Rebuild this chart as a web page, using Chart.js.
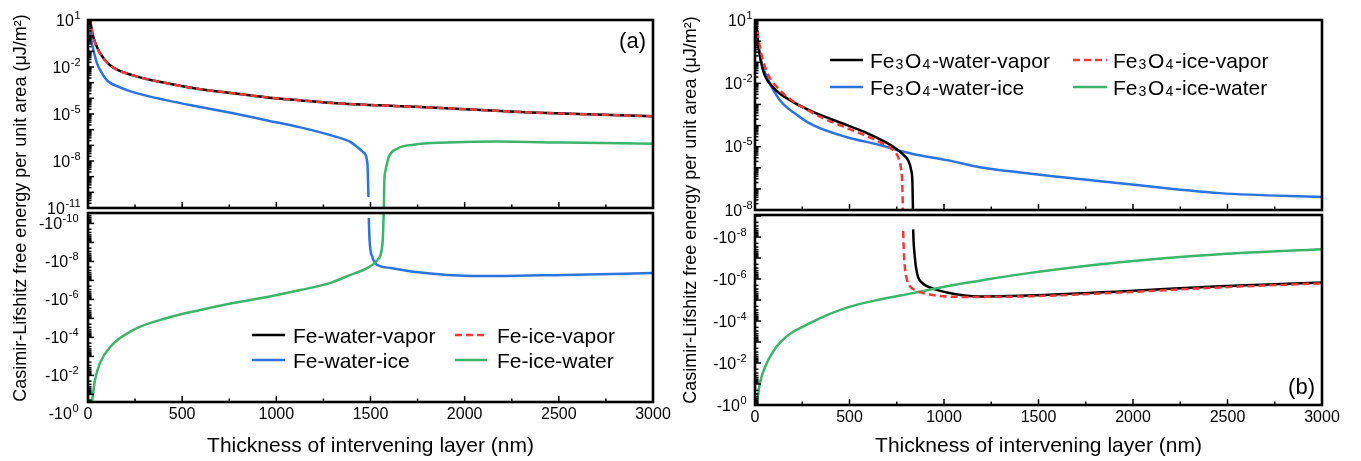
<!DOCTYPE html>
<html><head><meta charset="utf-8">
<script src="https://cdn.jsdelivr.net/npm/chart.js@4.4.1/dist/chart.umd.min.js"></script>
<style>
html,body{margin:0;padding:0;background:#fff;}
#wrap{position:relative;width:1361px;height:461px;overflow:hidden;background:#fff;}
canvas{position:absolute;left:0;top:0;}
</style></head><body>
<div id="wrap">
<canvas id="aTop" width="1361" height="461"></canvas>
<canvas id="aBot" width="1361" height="461"></canvas>
<canvas id="bTop" width="1361" height="461"></canvas>
<canvas id="bBot" width="1361" height="461"></canvas>
</div>
<script>
// ---------- tick labels / axis texts ----------
const xTickValues = [0, 500, 1000, 1500, 2000, 2500, 3000];
const aTopTicks = [1e1, 1e-2, 1e-5, 1e-8, 1e-11];
const aBotTicks = [1e-10, 1e-8, 1e-6, 1e-4, 1e-2, 1e0];
const bTopTicks = [1e1, 1e-2, 1e-5, 1e-8];
const bBotTicks = [1e-8, 1e-6, 1e-4, 1e-2, 1e0];
const xTitle = 'Thickness of intervening layer (nm)';
const yTitle = 'Casimir-Lifshitz free energy per unit area (\u03bcJ/m\u00b2)';
const aNames = ['Fe-water-vapor', 'Fe-ice-vapor', 'Fe-water-ice', 'Fe-ice-water'];
const bNames = ['Fe\u2083O\u2084-water-vapor', 'Fe\u2083O\u2084-ice-vapor', 'Fe\u2083O\u2084-water-ice', 'Fe\u2083O\u2084-ice-water'];
const seriesColors = ['#000000', '#f03a3a', '#2b74de', '#3db36c'];

// ---------- panel (a): Fe  (x in nm, energy in uJ/m^2, signed) ----------
const aWaterVaporX = [8, 11, 28, 64, 117, 239, 420, 596, 771, 952, 1128, 1320, 1819, 2351, 3000];
const aWaterVaporE = [15, 10, 0.83, 0.076, 0.013, 2.9e-3, 9.1e-4, 3.8e-4, 2.1e-4, 1.15e-4, 7.4e-5, 4.8e-5, 2.6e-5, 1.26e-5, 7.1e-6];
const aIceVaporX = [8, 11, 28, 64, 117, 239, 420, 596, 771, 952, 1128, 1320, 1819, 2351, 3000];
const aIceVaporE = [15, 10, 0.83, 0.076, 0.013, 2.9e-3, 9.1e-4, 3.8e-4, 2.1e-4, 1.15e-4, 7.4e-5, 4.8e-5, 2.6e-5, 1.26e-5, 7.1e-6];
const aWaterIceX = [7, 21, 48, 64, 101, 170, 239, 420, 596, 771, 952, 1128, 1300, 1394, 1463, 1484, 1489,
                    1491, 1495, 1510, 1537, 1606, 1729, 1910, 2176, 2527, 3000];
const aWaterIceE = [3.0, 0.32, 0.017, 6.5e-3, 1.4e-3, 5.0e-4, 2.5e-4, 7.4e-5, 2.8e-5, 1.1e-5, 3.9e-6, 1.4e-6, 4.0e-7, 1.6e-7, 3.5e-8, 6.3e-9, 5.0e-11,
                    -5.1e-11, -7.4e-10, -5.9e-9, -1.55e-8, -2.2e-8, -3.5e-8, -5.1e-8, -5.9e-8, -5.1e-8, -4.1e-8];
const aIceWaterX = [15, 21, 37, 64, 117, 239, 420, 596, 771, 952, 1128, 1287, 1394, 1484, 1537, 1564, 1569, 1570,
                    1571, 1573, 1580, 1596, 1644, 1729, 1910, 2176, 2527, 3000];
const aIceWaterE = [-0.5, -0.25, -0.0174, -2.2e-3, -3.2e-4, -4.1e-5, -9.5e-6, -3.6e-6, -1.55e-6, -7.4e-7, -3.2e-7, -1.35e-7, -5.1e-8, -2.2e-8, -8.3e-9, -1.07e-9, -6.6e-11, -2.5e-11,
                    1e-11, 4e-10, 2.5e-9, 1.66e-8, 6.3e-8, 1.1e-7, 1.5e-7, 1.74e-7, 1.5e-7, 1.26e-7];

// ---------- panel (b): Fe3O4 ----------
const bWaterVaporX = [5, 17, 42, 95, 185, 307, 487, 593, 698, 750, 790, 810, 826, 833, 836,
                      837, 839, 844, 851, 862, 880, 910, 1016, 1190, 1402, 1931, 2460, 3000];
const bWaterVaporE = [10, 0.8, 0.043, 6.6e-3, 1.6e-3, 4.4e-4, 1.05e-4, 4.4e-5, 1.5e-5, 7.6e-6, 3.8e-6, 2.3e-6, 7.9e-7, 2.0e-7, 7.9e-9,
                      -4.3e-9, -1.6e-8, -6.3e-8, -2.5e-7, -7.6e-7, -1.4e-6, -2.2e-6, -4.4e-6, -6.8e-6, -6.3e-6, -3.9e-6, -2.2e-6, -1.45e-6];
const bIceVaporX = [5, 26, 63, 132, 307, 487, 661, 730, 760, 772, 779, 783,
                    784, 786, 789, 795, 804, 820, 850, 926, 1100, 1402, 1931, 2460, 3000];
const bIceVaporE = [10, 0.54, 0.035, 4.8e-3, 3.9e-4, 7.6e-5, 1.66e-5, 6.9e-6, 2.8e-6, 1.0e-6, 2.0e-7, 7.9e-9,
                    -5.2e-9, -2.0e-8, -1.0e-7, -4.0e-7, -1.05e-6, -2.2e-6, -3.5e-6, -5.5e-6, -7.1e-6, -6.8e-6, -4.4e-6, -2.5e-6, -1.6e-6];
const bWaterIceX = [5, 26, 63, 132, 222, 307, 487, 661, 751, 836, 1016, 1190, 1402, 1931, 2460, 3000];
const bWaterIceE = [3.4, 0.18, 0.02, 1.6e-3, 3.2e-4, 1.05e-4, 2.8e-5, 1.2e-5, 6.9e-6, 4.5e-6, 2.3e-6, 1.07e-6, 6.0e-7, 1.86e-7, 6.3e-8, 4.1e-8];
const bIceWaterX = [9, 26, 63, 132, 307, 487, 661, 836, 1016, 1190, 1402, 1931, 2460, 3000];
const bIceWaterE = [-1.0, -0.089, -0.01, -1.07e-3, -1.07e-4, -2.3e-5, -9.5e-6, -4.7e-6, -2.2e-6, -1.2e-6, -6.0e-7, -1.6e-7, -6.6e-8, -3.8e-8];

// ---------- helpers ----------
const FONT = "'Liberation Sans', Arial, 'DejaVu Sans', sans-serif";
const SUBS = '\u2080\u2081\u2082\u2083\u2084\u2085\u2086\u2087\u2088\u2089';
const posPts = (xs, es) => xs.map((x, i) => ({x: x, y: es[i]})).filter(p => p.y > 0);
const negPts = (xs, es) => xs.map((x, i) => ({x: x, y: -es[i]})).filter(p => p.y > 0);
const dashes = [null, [7, 4], null, null];
const orders = [2, 0, 3, 1];

function makeDatasets(seriesX, seriesE, names, sign) {
  const out = [];
  for (let i = 0; i < 4; i++) {
    const data = sign > 0 ? posPts(seriesX[i], seriesE[i]) : negPts(seriesX[i], seriesE[i]);
    if (!data.length) continue;
    out.push({
      label: names[i], data: data, borderColor: seriesColors[i], backgroundColor: seriesColors[i],
      borderWidth: 2.5, borderDash: dashes[i] || [], pointRadius: 0, fill: false,
      cubicInterpolationMode: 'monotone', order: orders[i], clip: 0
    });
  }
  return out;
}

// draws text where Unicode subscript digits are rendered as smaller lowered digits
function fillRich(ctx, text, x, yMid, size) {
  const base = yMid + size * 0.36;
  let cx = x;
  for (const ch of text) {
    const k = SUBS.indexOf(ch);
    if (k >= 0) {
      ctx.font = Math.round(size * 0.66) + 'px ' + FONT;
      cx += 1;
      ctx.fillText(String(k), cx, base + size * 0.08);
      cx += ctx.measureText(String(k)).width + 1.8;
    } else {
      ctx.font = size + 'px ' + FONT;
      ctx.fillText(ch, cx, base);
      cx += ctx.measureText(ch).width;
    }
  }
}

function drawLegend(ctx, ca, names, geo) {
  ctx.save();
  ctx.textBaseline = 'alphabetic';
  ctx.textAlign = 'left';
  for (let i = 0; i < 4; i++) {
    const row = Math.floor(i / 2), col = i % 2;
    const y = ca.top + geo.rows[row];
    const c = geo.cols[col];
    ctx.strokeStyle = seriesColors[i];
    ctx.lineWidth = 2.5;
    ctx.setLineDash(dashes[i] || []);
    ctx.beginPath();
    ctx.moveTo(ca.left + c[0], y);
    ctx.lineTo(ca.left + c[1], y);
    ctx.stroke();
    ctx.setLineDash([]);
    ctx.fillStyle = '#000';
    fillRich(ctx, names[i], ca.left + c[2], y, 21);
  }
  ctx.restore();
}

function drawYTitle(ctx, x, y) {
  ctx.save();
  ctx.translate(x, y);
  ctx.rotate(-Math.PI / 2);
  ctx.font = '18px ' + FONT;
  ctx.fillStyle = '#000';
  ctx.textAlign = 'center';
  ctx.textBaseline = 'middle';
  ctx.fillText(yTitle, 0, 0);
  ctx.restore();
}

// power-of-ten tick labels with a raised exponent
function drawYLabels(chart, opt) {
  const ctx = chart.ctx, ca = chart.chartArea, ys = chart.scales.y;
  ctx.save();
  ctx.fillStyle = '#000';
  ctx.textBaseline = 'alphabetic';
  ctx.textAlign = 'left';
  for (const v of opt.yTicks) {
    const e = Math.round(Math.log10(v));
    const main = (opt.neg ? '-' : '') + '10';
    const ex = String(e);
    ctx.font = '16px ' + FONT;
    const wm = ctx.measureText(main).width;
    ctx.font = '11px ' + FONT;
    const we = ctx.measureText(ex).width;
    const py = ys.getPixelForValue(v);
    const x0 = ca.left - opt.yPad - wm - we;
    ctx.font = '16px ' + FONT;
    ctx.fillText(main, x0, py + 5.8);
    ctx.font = '11px ' + FONT;
    ctx.fillText(ex, x0 + wm + 0.5, py - 1.2);
  }
  ctx.restore();
}

function framePlugin(opt) {
  return {
    id: 'frame',
    afterDatasetsDraw(chart) {
      const ctx = chart.ctx, ca = chart.chartArea, xs = chart.scales.x, ys = chart.scales.y;
      ctx.save();
      ctx.strokeStyle = '#000';
      ctx.lineWidth = 1.5;
      for (let v = 0; v <= 3000; v += 250) {
        const px = xs.getPixelForValue(v);
        const len = (v % 500 === 0) ? 6 : 3.5;
        ctx.beginPath(); ctx.moveTo(px, ca.bottom); ctx.lineTo(px, ca.bottom - len); ctx.stroke();
      }
      const lo = Math.floor(Math.log10(ys.min)), hi = Math.ceil(Math.log10(ys.max));
      for (let e = lo; e <= hi; e++) {
        for (let m = 1; m <= 9; m++) {
          const v = m * Math.pow(10, e);
          if (v < ys.min * 0.999 || v > ys.max * 1.001) continue;
          const py = ys.getPixelForValue(v);
          const len = (m === 1) ? 6 : 3.5;
          ctx.beginPath(); ctx.moveTo(ca.left, py); ctx.lineTo(ca.left + len, py); ctx.stroke();
        }
      }
      ctx.lineWidth = 2.6;
      ctx.strokeRect(ca.left, ca.top, ca.right - ca.left, ca.bottom - ca.top);
      ctx.restore();
      drawYLabels(chart, opt);
      if (opt.extra) opt.extra(chart);
    }
  };
}

function makeChart(id, opt) {
  return new Chart(document.getElementById(id), {
    type: 'line',
    data: {datasets: opt.datasets},
    options: {
      responsive: false, animation: false, devicePixelRatio: 1,
      layout: {padding: opt.padding},
      plugins: {legend: {display: false}, tooltip: {enabled: false}},
      scales: {
        x: {
          type: 'linear', min: 0, max: 3000, display: opt.showX,
          afterBuildTicks: s => { s.ticks = xTickValues.map(v => ({value: v})); },
          ticks: {callback: v => String(v), padding: 3, font: {family: FONT, size: 16}, color: '#000', maxRotation: 0, autoSkip: false},
          grid: {display: false, drawTicks: false}, border: {display: false},
          title: {display: opt.showX, text: xTitle, font: {family: FONT, size: 21}, color: '#000', padding: 0},
          afterFit: s => { s.height = opt.xH; }
        },
        y: {
          type: 'logarithmic', min: opt.yMin, max: opt.yMax, reverse: !!opt.neg,
          afterBuildTicks: s => { s.ticks = opt.yTicks.map(v => ({value: v})); },
          ticks: {display: false},
          grid: {display: false, drawTicks: false}, border: {display: false},
          afterFit: s => { s.width = 70; }
        }
      }
    },
    plugins: [framePlugin(opt)]
  });
}

const aX = [aWaterVaporX, aIceVaporX, aWaterIceX, aIceWaterX];
const aE = [aWaterVaporE, aIceVaporE, aWaterIceE, aIceWaterE];
const bX = [bWaterVaporX, bIceVaporX, bWaterIceX, bIceWaterX];
const bE = [bWaterVaporE, bIceVaporE, bWaterIceE, bIceWaterE];

// panel (a) top: area 88..653 x 20..208
makeChart('aTop', {
  datasets: makeDatasets(aX, aE, aNames, 1),
  yMin: 1e-11, yMax: 1e1, yTicks: aTopTicks, yPad: 8, showX: false, xH: 0,
  padding: {left: 18, right: 708, top: 20, bottom: 253},
  extra: (chart) => {
    const ctx = chart.ctx, ca = chart.chartArea;
    drawYTitle(ctx, 21, 208);
    ctx.save();
    ctx.font = '22px ' + FONT; ctx.fillStyle = '#000'; ctx.textAlign = 'right'; ctx.textBaseline = 'middle';
    ctx.fillText('(a)', ca.right - 7, ca.top + 22);
    ctx.restore();
  }
});
// panel (a) bottom: area 88..653 x 213..402
makeChart('aBot', {
  datasets: makeDatasets(aX, aE, aNames, -1),
  yMin: Math.pow(10, -10.55), yMax: Math.pow(10, -0.6), yTicks: aBotTicks, yPad: 10, neg: true,
  showX: true, xH: 56.6,
  padding: {left: 18, right: 708, top: 213, bottom: 2.4},
  extra: (chart) => {
    drawLegend(chart.ctx, chart.chartArea, aNames, {rows: [122, 147], cols: [[164, 197, 205], [367, 399, 409]]});
  }
});
// panel (b) top: area 755..1322 x 20..210
makeChart('bTop', {
  datasets: makeDatasets(bX, bE, bNames, 1),
  yMin: 1e-8, yMax: 1e1, yTicks: bTopTicks, yPad: 3, showX: false, xH: 0,
  padding: {left: 685, right: 39, top: 20, bottom: 251},
  extra: (chart) => {
    drawYTitle(chart.ctx, 691, 210);
    drawLegend(chart.ctx, chart.chartArea, bNames, {rows: [40, 67], cols: [[75, 108, 115], [318, 352, 358]]});
  }
});
// panel (b) bottom: area 755..1322 x 215..405
makeChart('bBot', {
  datasets: makeDatasets(bX, bE, bNames, -1),
  yMin: Math.pow(10, -9.05), yMax: 1, yTicks: bBotTicks, yPad: 9, neg: true,
  showX: true, xH: 53.6,
  padding: {left: 685, right: 39, top: 215, bottom: 2.4},
  extra: (chart) => {
    const ctx = chart.ctx, ca = chart.chartArea;
    ctx.save();
    ctx.font = '22px ' + FONT; ctx.fillStyle = '#000'; ctx.textAlign = 'right'; ctx.textBaseline = 'middle';
    ctx.fillText('(b)', ca.right - 7, ca.bottom - 17);
    ctx.restore();
  }
});
</script>
</body></html>
